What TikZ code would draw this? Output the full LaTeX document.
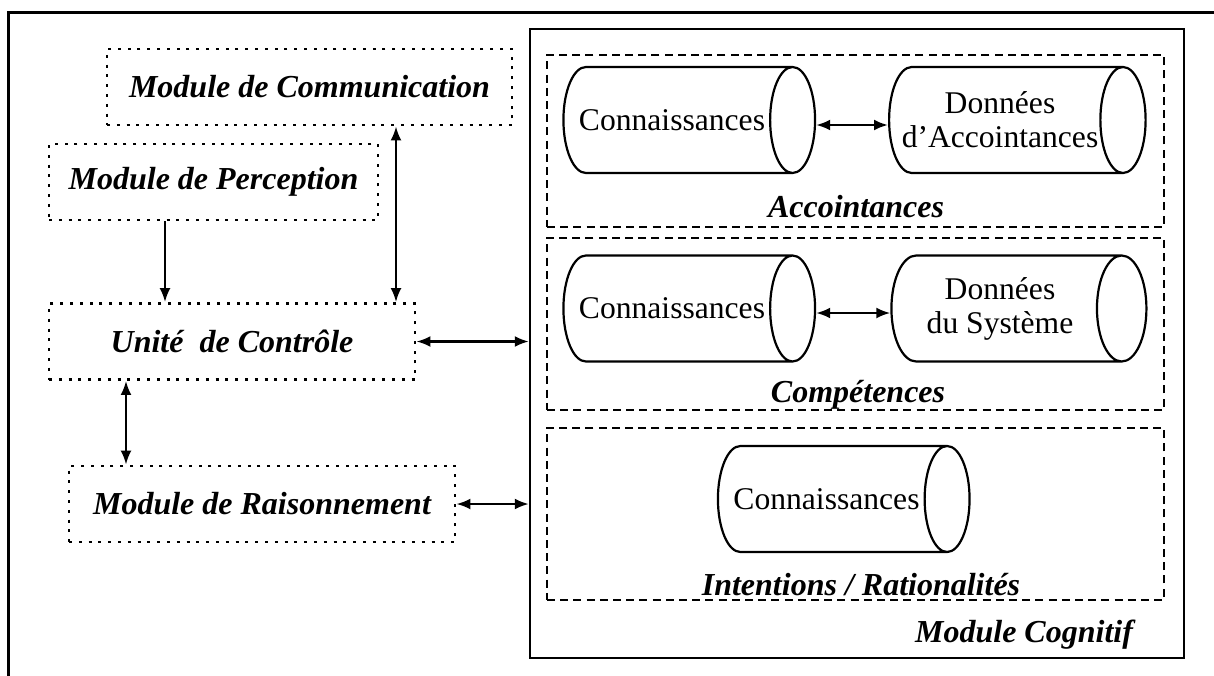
\documentclass[tikz,border=0pt]{standalone}
\usepackage{fontspec}
\setmainfont{Liberation Serif}
\usetikzlibrary{arrows.meta,positioning,shapes.geometric,calc}

\begin{document}
\begin{tikzpicture}[x=0.5pt,y=-0.5pt,
  modbox/.style={draw, line width=1.4pt, dash pattern=on 1.5pt off 3.4pt, minimum height=38pt, font=\fontsize{16}{18}\selectfont\bfseries\itshape},
  grpbox/.style={draw, line width=1.1pt, dash pattern=on 4pt off 2.6pt, minimum width=308.5pt, minimum height=86pt},
  base/.style={cylinder, draw, line width=1.1pt, aspect=1.3, inner xsep=2pt, minimum width=53pt, minimum height=124pt, align=center, font=\fontsize{15.8}{17}\selectfont},
  lbl/.style={font=\fontsize{16}{18}\selectfont\bfseries\itshape},
  arr/.style={{Latex[length=7pt,width=5.5pt]}-{Latex[length=7pt,width=5.5pt]}, line width=1.2pt},
  oneway/.style={-{Latex[length=7pt,width=5.5pt]}, line width=1.2pt},
]
\useasboundingbox (0,0) rectangle (1214,675);
% outer frame
\draw[line width=1.5pt] (8,700) -- (8,12) -- (1230,12);

% Left modules
\node[modbox, minimum width=202.5pt] (comm) at (309.5,87) {Module de Communication};
\node[modbox, minimum width=164.5pt] (perc) at (213.5,182) {Module de Perception};
\node[modbox, minimum width=183pt] (ctrl) at (232,341.5) {Unité\ \ de Contrôle};
\node[modbox, minimum width=193pt] (rais) at (262,504) {Module de Raisonnement};

% Cognitive module
\node[draw, line width=1.2pt, minimum width=327pt, minimum height=314.5pt] (cog) at (857,343.5) {};
\node[grpbox] (acc) at (855.5,141) {};
\node[grpbox] (comp) at (855.5,324) {};
\node[grpbox] (intn) at (855.5,514) {};

% Knowledge bases
\node[base] (k1) at (672,120) {Connaissances};
\node[base, aspect=0.65, inner xsep=0.5pt, minimum height=127.5pt] (d1) at (1000,120) {Données\\d’Accointances};
\node[base] (k2) at (672,308.5) {Connaissances};
\node[base, aspect=0.65, inner xsep=0.5pt, minimum height=127.5pt] (d2) at (1000,308.5) {Données\\du Système};
\node[base, minimum height=125pt] (k3) at (826.5,499) {Connaissances};

% Labels
\node[lbl] (accl) at (856,207) {Accointances};
\node[lbl] (compl) at (858,395) {Compétences};
\node[lbl] (intl) at (861,585) {Intentions / Rationalités};
\node[lbl, anchor=east] (cogl) at (1140,635) {Module Cognitif};

% Arrows
\draw[oneway] ([xshift=-24.25pt]perc.south) -- ([xshift=-24.25pt]perc.south |- ctrl.north);
\draw[arr] ([xshift=43.25pt]comm.south) -- ([xshift=43.25pt]comm.south |- ctrl.north);
\draw[arr] ([xshift=-53pt]ctrl.south) -- ([xshift=-53pt]ctrl.south |- rais.north);
\draw[arr] (ctrl.east) -- (ctrl.east -| cog.west);
\draw[arr] (rais.east) -- (rais.east -| cog.west);
\draw[arr] ([yshift=-2.5pt]k1.east) -- ([yshift=-2.5pt]k1.east -| d1.west);
\draw[arr] ([yshift=-2.25pt]k2.east) -- ([yshift=-2.25pt]k2.east -| d2.west);
\end{tikzpicture}
\end{document}
